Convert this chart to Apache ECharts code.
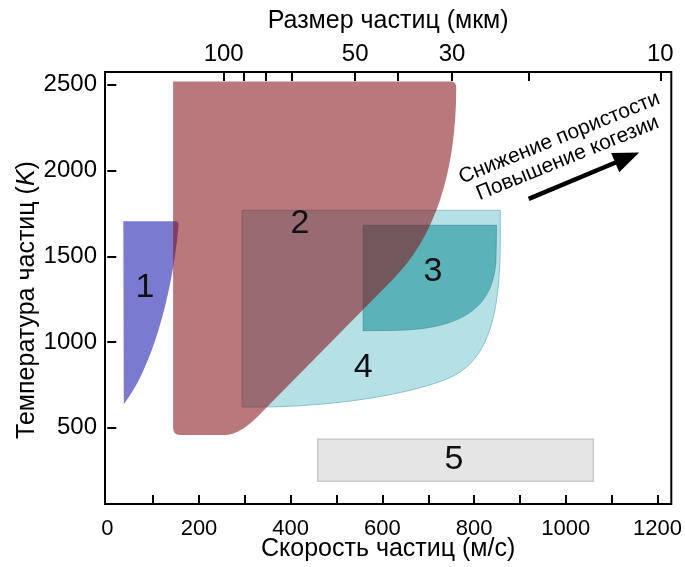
<!DOCTYPE html>
<html>
<head>
<meta charset="utf-8">
<script src="https://cdn.jsdelivr.net/npm/echarts@6/dist/echarts.min.js"></script>
<style>html,body{margin:0;padding:0;background:#fff}#c{width:685px;height:567px}</style>
</head>
<body>
<div id="c"></div>
<script>
// ---- axis ticks / labels ----
const velocityTicks = [100, 200, 300, 400, 500, 600, 700, 800, 900, 1000, 1100, 1200];
const velocityLabels = [0, 200, 400, 600, 800, 1000, 1200];
const tempTicks = [500, 1000, 1500, 2000, 2500];
const sizeTicks = [100, 90, 80, 70, 50, 40, 30, 20, 10];
const sizeLabels = [100, 50, 30, 10];

// ---- regions (velocity m/s, temperature K) ----
const region1 = [['M', 35, 1704], ['L', 149, 1704], ['Q', 157, 1704, 155, 1668], ['C', 141, 1257, 93, 824, 36, 639], ['Z']];
const region2 = [['M', 143.5, 2519], ['L', 750, 2519], ['Q', 761, 2519, 761, 2483], ['C', 761, 1991, 714, 1608, 622, 1363],
  ['L', 336, 587], ['C', 318, 537, 288, 458, 258, 458], ['L', 158, 458], ['Q', 143.5, 458, 143.5, 500], ['Z']];
const region3 = [['M', 558, 1681], ['L', 849, 1681], ['L', 848, 1517], ['C', 848, 1228, 789, 1067, 615, 1067], ['L', 558, 1066], ['Z']];
const region4 = [['M', 294, 1768], ['L', 857, 1768], ['L', 857, 1604], ['C', 857, 1142, 830, 879, 739, 783],
  ['C', 638, 676, 463, 621, 332, 621], ['L', 294, 621], ['Z']];
const region5 = [['M', 459, 432], ['L', 1060, 432], ['L', 1060, 188], ['L', 459, 188], ['Z']];

const regionLabels = [[82, 1315, '1'], [420, 1691, '2'], [710, 1413, '3'], [558, 853, '4'], [756, 315, '5']];
const trendText = ['Снижение пористости', 'Повышение когезии'];
const trendTextPos = [[986, 2190], [1004, 2072]];
const trendArrow = [[919, 1835], [1160, 2105]];

const FONT = "'Liberation Sans', Arial, Helvetica, sans-serif";

function pathSeries(cmds, style) {
  return {
    type: 'custom', coordinateSystem: 'cartesian2d', silent: true, animation: false,
    data: [0],
    renderItem: function (params, api) {
      let d = '';
      cmds.forEach(function (c) {
        d += c[0];
        for (let i = 1; i < c.length; i += 2) {
          const p = api.coord([c[i], c[i + 1]]);
          d += ' ' + p[0].toFixed(2) + ' ' + p[1].toFixed(2);
        }
        d += ' ';
      });
      return { type: 'path', shape: { pathData: d }, style: style };
    }
  };
}

const plain = function (v) { return String(Math.round(v)); };

const chart = echarts.init(document.getElementById('c'), null, { renderer: 'canvas' });
chart.setOption({
  animation: false,
  backgroundColor: '#fff',
  grid: { left: 105, right: 12, top: 72, bottom: 59, show: true, borderColor: '#000', borderWidth: 2, backgroundColor: 'transparent' },
  xAxis: [{
    type: 'value', position: 'bottom', min: -5, max: 1230,
    name: 'Скорость частиц (м/с)', nameLocation: 'middle', nameGap: 33, nameMoveOverlap: false,
    nameTextStyle: { fontSize: 25, color: '#000', fontFamily: FONT },
    axisLine: { show: false },
    axisTick: { show: true, inside: true, length: 9, lineStyle: { color: '#000', width: 2 }, customValues: velocityTicks },
    axisLabel: { fontSize: 22, color: '#000', fontFamily: FONT, margin: 14, customValues: velocityLabels, formatter: plain },
    splitLine: { show: false }
  }, {
    type: 'value', position: 'top', inverse: true, min: Math.log10(9.44), max: Math.log10(187),
    name: 'Размер частиц (мкм)', nameLocation: 'middle', nameGap: 38, nameMoveOverlap: false,
    nameTextStyle: { fontSize: 25, color: '#000', fontFamily: FONT },
    axisLine: { show: false },
    axisTick: { show: true, inside: true, length: 9, lineStyle: { color: '#000', width: 2 }, customValues: sizeTicks.map(Math.log10) },
    axisLabel: { fontSize: 24, color: '#000', fontFamily: FONT, margin: 6, customValues: sizeLabels.map(Math.log10),
      formatter: function (v) { return String(Math.round(Math.pow(10, v))); } },
    splitLine: { show: false }
  }],
  yAxis: [{
    type: 'value', min: 55, max: 2575,
    name: 'Температура частиц ({i|K})', nameLocation: 'middle', nameGap: 65, nameMoveOverlap: false,
    nameTextStyle: { fontSize: 25, color: '#000', fontFamily: FONT, padding: [0, 24, 0, 0],
      rich: { i: { fontSize: 25, fontStyle: 'italic', color: '#000', fontFamily: FONT } } },
    axisLine: { show: false },
    axisTick: { show: true, inside: true, length: 9, lineStyle: { color: '#000', width: 2 }, customValues: tempTicks },
    axisLabel: { fontSize: 24, color: '#000', fontFamily: FONT, margin: 8, customValues: tempTicks, formatter: plain },
    splitLine: { show: false }
  }],
  series: [
    pathSeries(region1, { fill: '#7a7ad0' }),
    pathSeries(region4, { fill: '#b4e0e6', stroke: '#86c2ca', lineWidth: 1 }),
    pathSeries(region3, { fill: 'rgba(19,140,145,0.55)', stroke: 'rgba(20,110,115,0.4)', lineWidth: 1 }),
    pathSeries(region2, { fill: 'rgba(132,18,24,0.57)' }),
    pathSeries(region5, { fill: '#e5e5e5', stroke: '#c8c8c8', lineWidth: 1.5 }),
    {
      type: 'custom', coordinateSystem: 'cartesian2d', silent: true, animation: false,
      data: regionLabels,
      renderItem: function (params, api) {
        const p = api.coord([api.value(0), api.value(1)]);
        return { type: 'text', x: p[0], y: p[1],
          style: { text: regionLabels[params.dataIndex][2], fontSize: 34, fontFamily: FONT, fill: '#111', align: 'center', verticalAlign: 'middle' } };
      }
    },
    {
      type: 'custom', coordinateSystem: 'cartesian2d', silent: true, animation: false,
      data: trendTextPos,
      renderItem: function (params, api) {
        const p = api.coord([api.value(0), api.value(1)]);
        return { type: 'text', x: p[0], y: p[1], rotation: 22 * Math.PI / 180,
          style: { text: trendText[params.dataIndex], fontSize: 21, fontFamily: FONT, fill: '#000', align: 'center', verticalAlign: 'middle' } };
      }
    },
    {
      type: 'custom', coordinateSystem: 'cartesian2d', silent: true, animation: false,
      data: [0],
      renderItem: function (params, api) {
        const a = api.coord(trendArrow[0]);
        const b = api.coord(trendArrow[1]);
        const dx = b[0] - a[0], dy = b[1] - a[1];
        const L = Math.sqrt(dx * dx + dy * dy);
        const ux = dx / L, uy = dy / L;
        const headLen = 26, headW = 21;
        const bx = b[0] - ux * headLen, by = b[1] - uy * headLen;
        const px = -uy, py = ux;
        return { type: 'group', children: [
          { type: 'line', shape: { x1: a[0], y1: a[1], x2: bx + ux * 3, y2: by + uy * 3 }, style: { stroke: '#000', lineWidth: 4.5 } },
          { type: 'polygon', shape: { points: [[b[0], b[1]], [bx + px * headW / 2, by + py * headW / 2], [bx - px * headW / 2, by - py * headW / 2]] },
            style: { fill: '#000' } }
        ] };
      }
    }
  ]
});
</script>
</body>
</html>
